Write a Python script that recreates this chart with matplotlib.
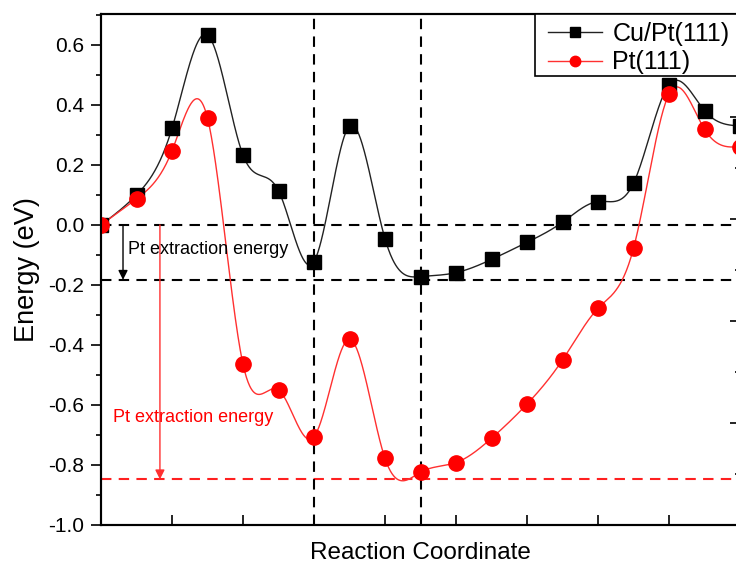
import numpy as np
import matplotlib
matplotlib.use("Agg")
import matplotlib.pyplot as plt
from matplotlib.patches import Rectangle
from matplotlib.ticker import MultipleLocator

plt.rcParams["font.family"] = ["Liberation Sans", "DejaVu Sans"]
plt.rcParams["axes.unicode_minus"] = False

# Reaction path images
step = list(range(19))
cu_pt111 = [0.0, 0.100, 0.322, 0.633, 0.233, 0.114, -0.122, 0.330, -0.046, -0.172,
            -0.159, -0.115, -0.058, 0.009, 0.078, 0.139, 0.467, 0.381, 0.330]
pt111 = [0.0, 0.087, 0.247, 0.356, -0.464, -0.550, -0.706, -0.381, -0.778, -0.824,
         -0.792, -0.711, -0.597, -0.450, -0.278, -0.078, 0.436, 0.319, 0.261]

series_names = ["Cu/Pt(111)", "Pt(111)"]
zero_level = 0.0
cu_extraction_level = -0.183
pt_extraction_level = -0.848
marked_steps = [6, 9]
arrow_label = "Pt extraction energy"
y_ticks = [-1.0, -0.8, -0.6, -0.4, -0.2, 0.0, 0.2, 0.4, 0.6]


def natural_spline(x, y, xs):
    x = np.asarray(x, float)
    y = np.asarray(y, float)
    n = len(x)
    h = np.diff(x)
    A = np.zeros((n, n))
    b = np.zeros(n)
    A[0, 0] = A[-1, -1] = 1.0
    for i in range(1, n - 1):
        A[i, i - 1] = h[i - 1]
        A[i, i] = 2 * (h[i - 1] + h[i])
        A[i, i + 1] = h[i]
        b[i] = 3 * ((y[i + 1] - y[i]) / h[i] - (y[i] - y[i - 1]) / h[i - 1])
    c = np.linalg.solve(A, b)
    bc = (y[1:] - y[:-1]) / h - h * (2 * c[:-1] + c[1:]) / 3
    d = (c[1:] - c[:-1]) / (3 * h)
    idx = np.clip(np.searchsorted(x, xs) - 1, 0, n - 2)
    dx = xs - x[idx]
    return y[idx] + bc[idx] * dx + c[idx] * dx ** 2 + d[idx] * dx ** 3


W, H = 736, 569
AX_W, AX_H = 639, 511
fig = plt.figure(figsize=(W / 100, H / 100), dpi=100)
ax = fig.add_axes([101 / W, 44 / H, AX_W / W, AX_H / H])

ax.set_xlim(0, 18)
ax.set_ylim(-1.0, 0.703)

dash = dict(lw=1.5, dashes=(5, 3.5), zorder=1)
ax.axhline(zero_level, color="black", **dash)
ax.axhline(cu_extraction_level, color="black", **dash)
ax.axhline(pt_extraction_level, color="#ff2020", **dash)
for s in marked_steps:
    ax.axvline(s, color="black", **dash)

xs = np.linspace(step[0], step[-1], 1200)
ax.plot(xs, natural_spline(step, cu_pt111, xs), color="#222222", lw=1.0, zorder=3)
ax.plot(xs, natural_spline(step, pt111, xs), color="#ff3030", lw=1.0, zorder=3)

ax.plot(step, cu_pt111, ls="none", marker="s", ms=10, color="black", zorder=4)
ax.plot(step, pt111, ls="none", marker="o", ms=11, color="red", zorder=4)
l1, = ax.plot([], [], color="#222222", lw=1.0, marker="s", ms=10, mfc="black", mec="black")
l2, = ax.plot([], [], color="#ff3030", lw=1.0, marker="o", ms=11, mfc="red", mec="red")

ax.annotate("", xy=(0.62, cu_extraction_level), xytext=(0.62, zero_level),
            arrowprops=dict(arrowstyle="-|>", color="black", lw=1.0,
                            mutation_scale=14, shrinkA=0, shrinkB=0), zorder=2)
ax.text(0.75, -0.083, arrow_label, color="black", fontsize=13, va="center", ha="left")

ax.annotate("", xy=(1.66, pt_extraction_level), xytext=(1.66, zero_level),
            arrowprops=dict(arrowstyle="-|>", color="#ff3030", lw=1.0,
                            mutation_scale=14, shrinkA=0, shrinkB=0), zorder=2)
ax.text(0.33, -0.642, arrow_label, color="red", fontsize=13, va="center", ha="left")

ax.set_yticks(y_ticks)
ax.set_yticklabels([f"{v:.1f}" for v in y_ticks])
ax.yaxis.set_minor_locator(MultipleLocator(0.1))
ax.xaxis.set_major_locator(MultipleLocator(2))
ax.tick_params(axis="y", which="major", direction="out", length=7, width=1.2,
               labelsize=15, pad=5)
ax.tick_params(axis="y", which="minor", direction="out", length=3.5, width=1.2)
ax.tick_params(axis="x", which="major", direction="in", length=7, width=1.2,
               labelbottom=False)
for sp in ax.spines.values():
    sp.set_linewidth(1.5)

ax2 = ax.twinx()
ax2.set_ylim(0, AX_H / 102)
ax2.yaxis.set_major_locator(MultipleLocator(1))
ax2.yaxis.set_minor_locator(MultipleLocator(0.5))
ax2.tick_params(axis="y", which="major", direction="in", length=7, width=1.2,
                labelright=False)
ax2.tick_params(axis="y", which="minor", direction="in", length=3.5, width=1.2)
for sp in ax2.spines.values():
    sp.set_linewidth(1.5)

ax.set_xlabel("Reaction Coordinate", fontsize=17.5, labelpad=12)
ax.set_ylabel("Energy (eV)", fontsize=19.5, labelpad=6)

# legend box: white panel hanging from the top spine
box = Rectangle((434 / AX_W, 1 - 62 / AX_H), 230 / AX_W, 62 / AX_H,
                transform=ax2.transAxes, facecolor="white", edgecolor="black",
                lw=1.2, clip_on=False, zorder=4.5)
ax2.add_patch(box)

leg = ax2.legend([l1, l2], series_names, loc="upper left",
                 bbox_to_anchor=(447 / AX_W, 1 - 7.5 / AX_H), borderaxespad=0,
                 fontsize=18.0, frameon=False, markerscale=0.68,
                 handlelength=2.17, handletextpad=0.4, labelspacing=0.2,
                 borderpad=0, numpoints=1)
leg.set_zorder(6)

fig.savefig("out.png", dpi=100)
